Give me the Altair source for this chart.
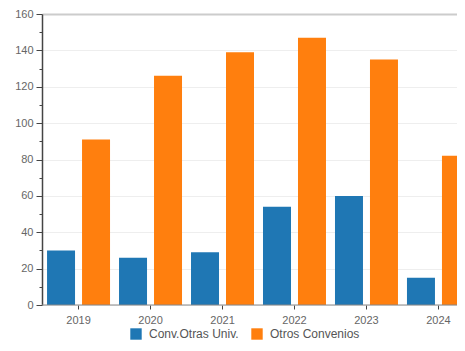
import altair as alt
import pandas as pd

years = ["2019", "2020", "2021", "2022", "2023", "2024"]
series = ["Conv.Otras Univ.", "Otros Convenios"]
conv_otras = [30, 26, 29, 54, 60, 15]
otros = [91, 126, 139, 147, 135, 82]
colors = ["#1f77b4", "#ff7f0e"]
y_ticks = list(range(0, 161, 10))

rows = []
for i, y in enumerate(years):
    rows.append({"year": y, "serie": series[0], "value": conv_otras[i]})
    rows.append({"year": y, "serie": series[1], "value": otros[i]})
df = pd.DataFrame(rows)

FONT = "Liberation Sans"
W = 415
H = 291

bars = alt.Chart(df).mark_bar(clip=True).encode(
    x=alt.X("year:N", title=None, sort=years,
            scale=alt.Scale(paddingInner=0.125, paddingOuter=0.07, range=[0, 433]),
            axis=alt.Axis(labelAngle=0, labelColor="#666", labelFontSize=11, labelFont=FONT,
                          domain=False, tickColor="#444", tickSize=4, labelPadding=5)),
    xOffset=alt.XOffset("serie:N", sort=series, scale=alt.Scale(paddingInner=0.2, paddingOuter=0)),
    y=alt.Y("value:Q", title=None, scale=alt.Scale(domain=[0, 160], nice=False),
            axis=alt.Axis(values=y_ticks,
                          labelExpr="datum.value % 20 === 0 ? datum.label : ''",
                          labelColor="#666", labelFontSize=11, labelFont=FONT,
                          domainColor="#444", domainWidth=1.5, tickColor="#444",
                          tickSize={"condition": {"test": "datum.value % 20 === 0", "value": 6}, "value": 3},
                          gridOpacity={"condition": {"test": "datum.value % 20 === 0", "value": 1}, "value": 0},
                          gridColor={"condition": {"test": "datum.value === 160", "value": "#ccc"}, "value": "#eee"},
                          gridWidth={"condition": {"test": "datum.value === 160", "value": 2}, "value": 1},
                          labelPadding=3)),
    color=alt.Color("serie:N", sort=series, title=None,
                    scale=alt.Scale(domain=series, range=colors),
                    legend=alt.Legend(orient="none", legendX=88, legendY=314, direction="horizontal",
                                      symbolType="square", symbolSize=130, symbolStrokeWidth=0,
                                      labelFontSize=12, labelFont=FONT, labelColor="#555",
                                      columnPadding=12, labelOffset=7)),
)

baseline = alt.Chart(pd.DataFrame({"v": [0]})).mark_rule(color="#888", strokeWidth=1).encode(
    x=alt.value(0), x2=alt.value(W), y=alt.value(H)
)

chart = alt.layer(bars, baseline).properties(
    width=W, height=H,
    autosize=alt.AutoSizeParams(type="none"),
    padding={"left": 34, "top": 6, "right": 0, "bottom": 38}
).configure_view(stroke=None)

chart.save("out.html", embed_options={"renderer": "svg", "actions": False})
